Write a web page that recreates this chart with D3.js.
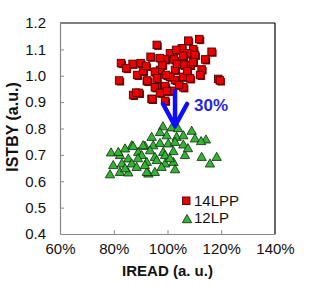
<!DOCTYPE html>
<html lang="en">
<head>
<meta charset="UTF-8">
<title>ISTBY vs IREAD</title>
<script src="https://d3js.org/d3.v7.min.js"></script>
<style>
  body { margin: 0; background: #fff; }
  text { font-family: "Liberation Sans", Arial, sans-serif; }
</style>
</head>
<body>
<div id="chart"></div>
<script>
// tick labels
const xTicks = [0.6, 0.8, 1.0, 1.2, 1.4];
const yTicks = [0.4, 0.5, 0.6, 0.7, 0.8, 0.9, 1.0, 1.1, 1.2];

// 14LPP points [IREAD %, ISTBY]
const lpp14 = [
  [82.7,1.048],[87.0,1.045],[90.0,1.048],[82.0,0.982],[88.7,1.003],[92.3,0.980],
  [87.2,0.927],[89.4,0.935],[94.1,0.912],[96.0,1.117],[93.7,1.072],[96.0,1.015],
  [96.0,0.958],[111.8,1.139],[107.7,1.133],[105.3,1.104],[109.6,1.100],[116.4,1.091],
  [107.4,1.085],[100.9,1.085],[110.2,1.079],[99.1,1.062],[102.4,1.062],[114.0,1.062],
  [108.4,1.041],[105.9,1.041],[97.2,1.022],[102.8,1.022],[112.7,1.024],[95.3,1.015],
  [112.1,1.003],[118.9,0.988],[96.0,0.990],[105.9,0.996],[102.8,0.984],[99.1,0.961],
  [105.9,0.956],[95.3,0.956],[94.2,0.912],[99.1,0.905],[108.4,0.990],[100.9,0.996],
  [101.6,0.943],[92.5,0.982],[90.9,1.018],[84.6,1.029],[88.3,0.936],[98.0,1.041],
  [103.5,1.045],[99.4,1.003],[107.3,1.018],[104.3,0.965],[97.2,0.935],[109.5,1.052],
  [103.2,1.098],[119.5,0.982],[97.2,1.067],[92.0,1.037],[99.8,0.942],[105.8,1.075]
];

// 12LP points [IREAD %, ISTBY]
const lp12 = [
  [98.3,0.809],[101.6,0.805],[109.0,0.792],[94.1,0.769],[99.7,0.775],[103.4,0.769],
  [105.9,0.775],[110.2,0.763],[114.3,0.759],[112.5,0.753],[86.7,0.737],[91.6,0.735],
  [94.7,0.737],[97.2,0.746],[100.3,0.744],[102.8,0.750],[105.9,0.740],[84.2,0.725],
  [89.1,0.712],[93.5,0.718],[98.4,0.712],[102.2,0.715],[106.5,0.700],[112.7,0.693],
  [118.3,0.693],[79.0,0.710],[82.3,0.700],[85.4,0.687],[90.4,0.700],[95.3,0.693],
  [99.1,0.700],[79.8,0.662],[83.0,0.668],[86.7,0.668],[88.5,0.655],[92.3,0.674],
  [96.0,0.681],[99.1,0.668],[102.2,0.674],[115.8,0.668],[78.6,0.627],[82.3,0.636],
  [85.4,0.634],[92.9,0.630],[95.3,0.636],[102.8,0.646],[97.8,0.655],[81.7,0.712],
  [87.2,0.734],[90.9,0.737],[92.3,0.636],[103.9,0.802],[97.2,0.787],[89.0,0.688],
  [84.2,0.650],[100.9,0.688],[107.6,0.726],[91.6,0.662]
];

// arrow: x, from / to in data units, label
const arrowX = 102.8;
const arrowFrom = 0.950, arrowTo = 0.802;
const arrowLabel = "30%";

const W = 313, H = 288;
const margin = { top: 23, right: 38, bottom: 54, left: 60 };
const iw = W - margin.left - margin.right;
const ih = H - margin.top - margin.bottom;
const ink = "#111";

const svg = d3.select("#chart").append("svg")
  .attr("width", W).attr("height", H);

const x = d3.scaleLinear().domain([60, 140]).range([margin.left, margin.left + iw]);
const y = d3.scaleLinear().domain([0.4, 1.2]).range([margin.top + ih, margin.top]);

// frame: top/right black, left/bottom gray
svg.append("line").attr("x1", x(60)).attr("x2", x(140)).attr("y1", y(1.2)).attr("y2", y(1.2))
  .attr("stroke", "#000").attr("stroke-width", 1.2);
svg.append("line").attr("x1", x(140)).attr("x2", x(140)).attr("y1", y(1.2)).attr("y2", y(0.4))
  .attr("stroke", "#000").attr("stroke-width", 1.2);

const xAxis = svg.append("g")
  .attr("transform", "translate(0," + y(0.4) + ")")
  .call(d3.axisBottom(x).tickValues(xTicks.map(d => d * 100))
    .tickFormat(d => d + "%").tickSizeInner(-4).tickSizeOuter(0).tickPadding(9));
const yAxis = svg.append("g")
  .attr("transform", "translate(" + x(60) + ",0)")
  .call(d3.axisLeft(y).tickValues(yTicks)
    .tickFormat(d3.format(".1f")).tickSizeInner(-4).tickSizeOuter(0).tickPadding(14));

[xAxis, yAxis].forEach(g => {
  g.select(".domain").attr("stroke", "#888").attr("stroke-width", 1.2);
  g.selectAll(".tick line").attr("stroke", "#888");
  g.selectAll(".tick text").attr("font-size", 15).attr("fill", ink)
    .attr("font-family", "Liberation Sans, Arial, sans-serif");
});
// no tick marks on the frame corners
xAxis.selectAll(".tick").filter(d => d === 60 || d === 140).select("line").remove();
yAxis.selectAll(".tick").filter(d => d === 0.4 || d === 1.2).select("line").remove();

// axis titles
svg.append("text")
  .attr("x", x(100)).attr("y", 276)
  .attr("text-anchor", "middle")
  .attr("font-size", 15).attr("font-weight", "bold").attr("fill", ink)
  .text("IREAD (a. u.)");
svg.append("text")
  .attr("transform", "translate(18,127) rotate(-90)")
  .attr("text-anchor", "middle")
  .attr("font-size", 16).attr("font-weight", "bold").attr("fill", ink)
  .text("ISTBY (a.u.)");

// squares (with small shadow)
const sq = 7.5;
const sqG = svg.append("g");
sqG.selectAll("rect.shadow").data(lpp14).enter().append("rect")
  .attr("x", d => x(d[0]) - sq / 2 + 1.3).attr("y", d => y(d[1]) - sq / 2 + 1.3)
  .attr("width", sq).attr("height", sq)
  .attr("fill", "#8a0000");
sqG.selectAll("rect.pt").data(lpp14).enter().append("rect")
  .attr("x", d => x(d[0]) - sq / 2).attr("y", d => y(d[1]) - sq / 2)
  .attr("width", sq).attr("height", sq)
  .attr("fill", "#ee0000").attr("stroke", "#4a0000").attr("stroke-width", 0.9);

// triangles
const tri = d3.symbol().type(d3.symbolTriangle).size(38);
svg.append("g").selectAll("path").data(lp12).enter().append("path")
  .attr("d", tri)
  .attr("transform", d => "translate(" + x(d[0]) + "," + (y(d[1]) + 1) + ")")
  .attr("fill", "#36b336").attr("stroke", "#0a2a0a").attr("stroke-width", 0.8);

// arrow
const ax = x(arrowX), ay1 = y(arrowFrom), ay2 = y(arrowTo);
svg.append("line").attr("x1", ax).attr("x2", ax).attr("y1", ay1).attr("y2", ay2 - 2)
  .attr("stroke", "#0d0dff").attr("stroke-width", 4.5);
svg.append("path")
  .attr("d", "M" + (ax - 12) + "," + (ay2 - 24) + " L" + ax + "," + (ay2 - 2) + " L" + (ax + 12) + "," + (ay2 - 24))
  .attr("fill", "none").attr("stroke", "#0d0dff").attr("stroke-width", 4.5)
  .attr("stroke-linejoin", "round").attr("stroke-linecap", "round");
svg.append("text")
  .attr("x", ax + 19).attr("y", y(0.866))
  .attr("font-size", 17).attr("font-weight", "bold").attr("fill", "#2727dd")
  .text(arrowLabel);

// legend
const lg = svg.append("g");
lg.append("rect").attr("x", 182.5).attr("y", 197).attr("width", 7.5).attr("height", 7.5)
  .attr("fill", "#ee0000").attr("stroke", "#4a0000").attr("stroke-width", 0.9);
lg.append("text").attr("x", 194).attr("y", 205.5).attr("font-size", 15).attr("fill", ink).text("14LPP");
lg.append("path").attr("d", tri).attr("transform", "translate(187,220)")
  .attr("fill", "#36b336").attr("stroke", "#0a2a0a").attr("stroke-width", 0.8);
lg.append("text").attr("x", 194).attr("y", 223).attr("font-size", 15).attr("fill", ink).text("12LP");
</script>
</body>
</html>
